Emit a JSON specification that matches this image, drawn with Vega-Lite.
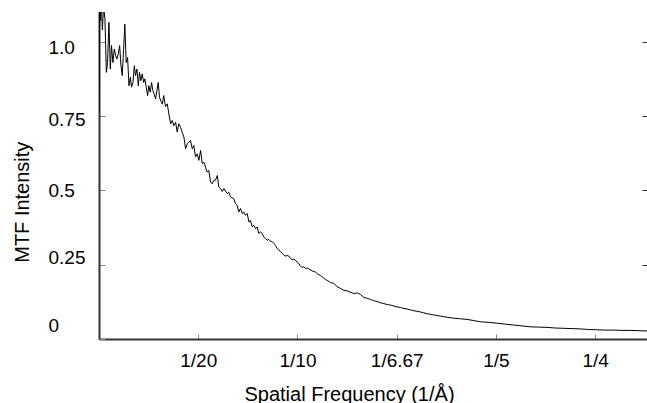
{
  "$schema": "https://vega.github.io/schema/vega-lite/v6.json",
  "width": 548,
  "height": 327,
  "autosize": {"type": "none"},
  "padding": {"left": 99, "top": 12, "right": 0, "bottom": 64},
  "background": "white",
  "config": {"view": {"stroke": null}, "font": "Liberation Sans"},
  "data": {"values": [
    {"f": 0, "mtf": 0.76}, {"f": 0.0003, "mtf": 1.15}, {"f": 0.0007, "mtf": 1.07}, {"f": 0.001, "mtf": 1.15},
    {"f": 0.0014, "mtf": 1.09}, {"f": 0.0017, "mtf": 1.04}, {"f": 0.0023, "mtf": 1.12}, {"f": 0.003, "mtf": 1.076},
    {"f": 0.0037, "mtf": 0.897}, {"f": 0.0043, "mtf": 0.93}, {"f": 0.005, "mtf": 1.065}, {"f": 0.0057, "mtf": 0.908},
    {"f": 0.0063, "mtf": 0.987}, {"f": 0.007, "mtf": 0.93}, {"f": 0.0077, "mtf": 0.975}, {"f": 0.0084, "mtf": 0.953},
    {"f": 0.009, "mtf": 0.942}, {"f": 0.0097, "mtf": 0.959}, {"f": 0.0104, "mtf": 0.987}, {"f": 0.011, "mtf": 0.925},
    {"f": 0.0117, "mtf": 0.886}, {"f": 0.0124, "mtf": 0.975}, {"f": 0.013, "mtf": 1.059}, {"f": 0.0137, "mtf": 0.93},
    {"f": 0.0144, "mtf": 0.947}, {"f": 0.0151, "mtf": 0.852}, {"f": 0.0158, "mtf": 0.88}, {"f": 0.0164, "mtf": 0.847},
    {"f": 0.0171, "mtf": 0.863}, {"f": 0.0178, "mtf": 0.919}, {"f": 0.0184, "mtf": 0.886}, {"f": 0.0191, "mtf": 0.908},
    {"f": 0.0198, "mtf": 0.852}, {"f": 0.0204, "mtf": 0.897}, {"f": 0.0211, "mtf": 0.869}, {"f": 0.0218, "mtf": 0.892},
    {"f": 0.0225, "mtf": 0.863}, {"f": 0.0231, "mtf": 0.875}, {"f": 0.0238, "mtf": 0.847}, {"f": 0.0245, "mtf": 0.819},
    {"f": 0.0251, "mtf": 0.852}, {"f": 0.0258, "mtf": 0.83}, {"f": 0.0265, "mtf": 0.863}, {"f": 0.0271, "mtf": 0.836},
    {"f": 0.0278, "mtf": 0.824}, {"f": 0.0285, "mtf": 0.808}, {"f": 0.0292, "mtf": 0.836}, {"f": 0.0298, "mtf": 0.863},
    {"f": 0.0305, "mtf": 0.813}, {"f": 0.0312, "mtf": 0.8}, {"f": 0.0319, "mtf": 0.79}, {"f": 0.0326, "mtf": 0.819},
    {"f": 0.0335, "mtf": 0.782}, {"f": 0.0344, "mtf": 0.791}, {"f": 0.0352, "mtf": 0.757}, {"f": 0.0361, "mtf": 0.724},
    {"f": 0.0369, "mtf": 0.735}, {"f": 0.0377, "mtf": 0.718}, {"f": 0.0386, "mtf": 0.729}, {"f": 0.0394, "mtf": 0.696},
    {"f": 0.0402, "mtf": 0.724}, {"f": 0.0411, "mtf": 0.712}, {"f": 0.0419, "mtf": 0.696}, {"f": 0.0428, "mtf": 0.679},
    {"f": 0.0436, "mtf": 0.64}, {"f": 0.0445, "mtf": 0.657}, {"f": 0.0453, "mtf": 0.662}, {"f": 0.0461, "mtf": 0.668},
    {"f": 0.047, "mtf": 0.64}, {"f": 0.0478, "mtf": 0.651}, {"f": 0.0486, "mtf": 0.612}, {"f": 0.0495, "mtf": 0.623},
    {"f": 0.0503, "mtf": 0.601}, {"f": 0.0512, "mtf": 0.634}, {"f": 0.052, "mtf": 0.59}, {"f": 0.0528, "mtf": 0.595},
    {"f": 0.0537, "mtf": 0.578}, {"f": 0.0545, "mtf": 0.561}, {"f": 0.0553, "mtf": 0.567}, {"f": 0.0562, "mtf": 0.528},
    {"f": 0.057, "mtf": 0.522}, {"f": 0.0579, "mtf": 0.534}, {"f": 0.0587, "mtf": 0.534}, {"f": 0.0596, "mtf": 0.55},
    {"f": 0.0604, "mtf": 0.511}, {"f": 0.0612, "mtf": 0.506}, {"f": 0.0621, "mtf": 0.496}, {"f": 0.0629, "mtf": 0.506},
    {"f": 0.0646, "mtf": 0.489}, {"f": 0.0654, "mtf": 0.494}, {"f": 0.0663, "mtf": 0.478}, {"f": 0.0679, "mtf": 0.472},
    {"f": 0.0688, "mtf": 0.455}, {"f": 0.0696, "mtf": 0.45}, {"f": 0.0704, "mtf": 0.427}, {"f": 0.0713, "mtf": 0.439},
    {"f": 0.0722, "mtf": 0.422}, {"f": 0.073, "mtf": 0.427}, {"f": 0.0738, "mtf": 0.416}, {"f": 0.0747, "mtf": 0.422},
    {"f": 0.0755, "mtf": 0.394}, {"f": 0.0763, "mtf": 0.399}, {"f": 0.0772, "mtf": 0.377}, {"f": 0.078, "mtf": 0.383},
    {"f": 0.0789, "mtf": 0.371}, {"f": 0.0797, "mtf": 0.377}, {"f": 0.0805, "mtf": 0.355}, {"f": 0.0814, "mtf": 0.36},
    {"f": 0.0822, "mtf": 0.355}, {"f": 0.083, "mtf": 0.343}, {"f": 0.0839, "mtf": 0.338}, {"f": 0.0847, "mtf": 0.332},
    {"f": 0.0856, "mtf": 0.335}, {"f": 0.0864, "mtf": 0.329}, {"f": 0.0873, "mtf": 0.327}, {"f": 0.0881, "mtf": 0.321},
    {"f": 0.0889, "mtf": 0.315}, {"f": 0.0898, "mtf": 0.304}, {"f": 0.0906, "mtf": 0.299}, {"f": 0.0915, "mtf": 0.294},
    {"f": 0.0923, "mtf": 0.288}, {"f": 0.0931, "mtf": 0.282}, {"f": 0.094, "mtf": 0.279}, {"f": 0.0948, "mtf": 0.281},
    {"f": 0.0956, "mtf": 0.279}, {"f": 0.0965, "mtf": 0.271}, {"f": 0.0973, "mtf": 0.267}, {"f": 0.0982, "mtf": 0.268},
    {"f": 0.099, "mtf": 0.265}, {"f": 0.0998, "mtf": 0.259}, {"f": 0.1007, "mtf": 0.254}, {"f": 0.1015, "mtf": 0.245},
    {"f": 0.1024, "mtf": 0.241}, {"f": 0.1032, "mtf": 0.243}, {"f": 0.104, "mtf": 0.237}, {"f": 0.1049, "mtf": 0.239},
    {"f": 0.1057, "mtf": 0.236}, {"f": 0.1074, "mtf": 0.229}, {"f": 0.1091, "mtf": 0.225}, {"f": 0.1103, "mtf": 0.218},
    {"f": 0.1116, "mtf": 0.214}, {"f": 0.1128, "mtf": 0.207}, {"f": 0.1141, "mtf": 0.2}, {"f": 0.1153, "mtf": 0.196},
    {"f": 0.1166, "mtf": 0.19}, {"f": 0.1183, "mtf": 0.187}, {"f": 0.12, "mtf": 0.176}, {"f": 0.1217, "mtf": 0.17},
    {"f": 0.1233, "mtf": 0.164}, {"f": 0.125, "mtf": 0.162}, {"f": 0.1267, "mtf": 0.157}, {"f": 0.1284, "mtf": 0.153},
    {"f": 0.1301, "mtf": 0.155}, {"f": 0.1317, "mtf": 0.15}, {"f": 0.1334, "mtf": 0.14}, {"f": 0.1351, "mtf": 0.137},
    {"f": 0.1368, "mtf": 0.133}, {"f": 0.1384, "mtf": 0.129}, {"f": 0.1401, "mtf": 0.126}, {"f": 0.1418, "mtf": 0.122},
    {"f": 0.1435, "mtf": 0.119}, {"f": 0.1452, "mtf": 0.116}, {"f": 0.1469, "mtf": 0.114}, {"f": 0.1485, "mtf": 0.111},
    {"f": 0.1502, "mtf": 0.108}, {"f": 0.1519, "mtf": 0.106}, {"f": 0.1536, "mtf": 0.103}, {"f": 0.1552, "mtf": 0.101},
    {"f": 0.1569, "mtf": 0.098}, {"f": 0.1586, "mtf": 0.095}, {"f": 0.1603, "mtf": 0.093}, {"f": 0.1619, "mtf": 0.091},
    {"f": 0.1636, "mtf": 0.088}, {"f": 0.1653, "mtf": 0.085}, {"f": 0.167, "mtf": 0.083}, {"f": 0.1686, "mtf": 0.081},
    {"f": 0.1703, "mtf": 0.079}, {"f": 0.172, "mtf": 0.077}, {"f": 0.1737, "mtf": 0.075}, {"f": 0.1754, "mtf": 0.073},
    {"f": 0.1787, "mtf": 0.07}, {"f": 0.1821, "mtf": 0.068}, {"f": 0.1854, "mtf": 0.066}, {"f": 0.1888, "mtf": 0.062},
    {"f": 0.1921, "mtf": 0.058}, {"f": 0.1964, "mtf": 0.056}, {"f": 0.2006, "mtf": 0.053}, {"f": 0.2047, "mtf": 0.05},
    {"f": 0.2089, "mtf": 0.047}, {"f": 0.2131, "mtf": 0.044}, {"f": 0.2173, "mtf": 0.041}, {"f": 0.2215, "mtf": 0.04},
    {"f": 0.2257, "mtf": 0.039}, {"f": 0.2299, "mtf": 0.037}, {"f": 0.2341, "mtf": 0.036}, {"f": 0.2383, "mtf": 0.035},
    {"f": 0.2425, "mtf": 0.034}, {"f": 0.2467, "mtf": 0.032}, {"f": 0.2509, "mtf": 0.031}, {"f": 0.2551, "mtf": 0.03},
    {"f": 0.2593, "mtf": 0.03}, {"f": 0.2635, "mtf": 0.029}, {"f": 0.2677, "mtf": 0.029}, {"f": 0.2719, "mtf": 0.028},
    {"f": 0.2761, "mtf": 0.027}
  ]},
  "layer": [
    {
      "mark": {"type": "line", "color": "black", "strokeWidth": 1, "clip": true},
      "encoding": {
        "x": {
          "field": "f", "type": "quantitative",
          "scale": {"domain": [0, 0.2761], "nice": false, "zero": false},
          "axis": {
            "orient": "bottom",
            "values": [0.05, 0.1, 0.15, 0.2, 0.25],
            "labelExpr": "datum.value < 0.07 ? '1/20' : datum.value < 0.12 ? '1/10' : datum.value < 0.17 ? '1/6.67' : datum.value < 0.22 ? '1/5' : '1/4'",
            "title": "Spatial Frequency (1/Å)",
            "titleFontSize": 20, "titleFontWeight": "normal", "titleColor": "black",
            "titleX": 250, "titleY": 61, "titleAlign": "center", "titleBaseline": "alphabetic",
            "labelFontSize": 19, "labelColor": "black", "labelBaseline": "alphabetic", "labelPadding": 32,
            "labelFlush": false, "labelOverlap": false,
            "tickSize": -5, "tickColor": "#888", "tickWidth": 1,
            "domainColor": "#333", "domainWidth": 2, "grid": false
          }
        },
        "y": {
          "field": "mtf", "type": "quantitative",
          "scale": {"domain": [0, 1.1], "nice": false},
          "axis": {
            "orient": "left",
            "values": [0, 0.25, 0.5, 0.75, 1],
            "labelExpr": "datum.value == 1 ? '1.0' : '' + datum.value",
            "title": "MTF Intensity",
            "titleFontSize": 20, "titleFontWeight": "normal", "titleColor": "black",
            "titleAngle": -90, "titleX": -70.7, "titleY": 189.7, "titleAlign": "center", "titleBaseline": "alphabetic",
            "labelFontSize": 19, "labelColor": "black", "labelAlign": "left", "labelBaseline": "middle",
            "labelPadding": 57, "labelFlush": false, "labelOverlap": false,
            "labelOffset": {"condition": [
              {"test": "datum.value == 0", "value": -14},
              {"test": "datum.value == 0.25", "value": -7},
              {"test": "datum.value == 0.75", "value": 3},
              {"test": "datum.value == 1", "value": 6}
            ], "value": 0},
            "tickSize": -6, "tickColor": "#888", "tickWidth": 1,
            "domainColor": "#333", "domainWidth": 2, "grid": false
          }
        }
      }
    },
    {
      "mark": {"type": "line", "strokeOpacity": 0, "clip": true},
      "encoding": {
        "x": {"field": "f", "type": "quantitative", "scale": {"domain": [0, 0.2761], "nice": false, "zero": false}},
        "y": {
          "field": "mtf", "type": "quantitative",
          "scale": {"domain": [0, 1.1], "nice": false},
          "axis": {
            "orient": "right", "values": [0.25, 0.5, 0.75, 1],
            "labels": false, "domain": false, "title": null, "grid": false,
            "tickSize": -5, "tickColor": "#333", "tickWidth": 1
          }
        }
      }
    }
  ],
  "resolve": {"axis": {"y": "independent"}}
}
